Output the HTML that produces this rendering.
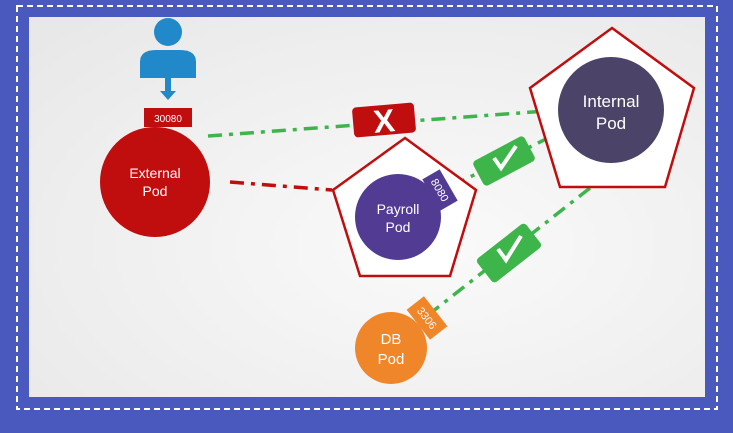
<!DOCTYPE html>
<html><head><style>body{margin:0;width:733px;height:428px;overflow:hidden;background:#4a59bd}</style></head><body>
<svg width="733" height="428" xmlns="http://www.w3.org/2000/svg" font-family="Liberation Sans, sans-serif">
<defs><radialGradient id="bg" cx="0.6" cy="0.6" r="0.8"><stop offset="0" stop-color="#fafafa"/><stop offset="1" stop-color="#e8e8e8"/></radialGradient></defs>
<rect width="733" height="428" fill="#4a59bd"/>
<rect x="17" y="6" width="700" height="403" fill="none" stroke="#fff" stroke-width="2" stroke-dasharray="6,4"/>
<rect x="29" y="17" width="676" height="380" fill="url(#bg)"/>
<!-- person -->
<circle cx="168" cy="32" r="14" fill="#2188c9"/>
<path d="M140 78 V62 Q140 50 156 50 H180 Q196 50 196 62 V78 Z" fill="#2188c9"/>
<rect x="165" y="78" width="6" height="14" fill="#2188c9"/>
<polygon points="160,91 176,91 168,100" fill="#2188c9"/>
<!-- lines -->
<g stroke-width="3.5" fill="none" stroke-dasharray="14,7,4,7">
<line x1="208" y1="136" x2="560" y2="110" stroke="#3db54a"/>
<line x1="230" y1="182" x2="332" y2="190" stroke="#c00d0d"/>
<line x1="452" y1="186" x2="560" y2="132" stroke="#3db54a"/>
<line x1="590" y1="188" x2="432" y2="312" stroke="#3db54a"/>
</g>
<!-- pentagons -->
<polygon points="405,138 476,190 450,276 360,276 333,190" fill="#fff" stroke="#c00d0d" stroke-width="2.5"/>
<polygon points="612,28 694,88 665,187 560,187 530,88" fill="#fff" stroke="#c00d0d" stroke-width="2.5"/>
<!-- pods -->
<circle cx="155" cy="182" r="55" fill="#c00d0d"/>
<text x="155" y="178" fill="#fff" font-size="14" text-anchor="middle">External</text>
<text x="155" y="196" fill="#fff" font-size="14" text-anchor="middle">Pod</text>
<rect x="144" y="108" width="48" height="19" fill="#c00d0d"/>
<text x="168" y="122" fill="#fff" font-size="10" text-anchor="middle">30080</text>
<circle cx="398" cy="217" r="43" fill="#523b93"/>
<text x="398" y="214" fill="#fff" font-size="14" text-anchor="middle">Payroll</text>
<text x="398" y="232" fill="#fff" font-size="14" text-anchor="middle">Pod</text>
<g transform="translate(440,190) rotate(60)"><rect x="-18" y="-10" width="36" height="20" fill="#523b93"/><text x="0" y="4" fill="#fff" font-size="11" text-anchor="middle">8080</text></g>
<circle cx="611" cy="110" r="53" fill="#4b4468"/>
<text x="611" y="107" fill="#fff" font-size="17" text-anchor="middle">Internal</text>
<text x="611" y="129" fill="#fff" font-size="17" text-anchor="middle">Pod</text>
<circle cx="391" cy="348" r="36" fill="#f0862a"/>
<text x="391" y="344" fill="#fff" font-size="15" text-anchor="middle">DB</text>
<text x="391" y="364" fill="#fff" font-size="15" text-anchor="middle">Pod</text>
<g transform="translate(427,318) rotate(52)"><rect x="-19" y="-11" width="38" height="22" fill="#f0862a"/><text x="0" y="4" fill="#fff" font-size="11" text-anchor="middle">3306</text></g>
<!-- X box -->
<g transform="translate(384,120) rotate(-5)"><rect x="-31" y="-15" width="62" height="30" rx="4" fill="#c00d0d"/><text x="0" y="12" fill="#fff" font-size="32" font-weight="bold" text-anchor="middle">X</text></g>
<!-- checks -->
<g transform="translate(504,161) rotate(-28)"><rect x="-29" y="-14" width="58" height="28" rx="4" fill="#3db54a"/></g>
<polyline points="494,158 501,168 516,146" fill="none" stroke="#fff" stroke-width="4"/>
<g transform="translate(509,253) rotate(-38)"><rect x="-31" y="-15" width="62" height="30" rx="4" fill="#3db54a"/></g>
<polyline points="498,249 506,260 521,236" fill="none" stroke="#fff" stroke-width="4"/>
</svg>
</body></html>
